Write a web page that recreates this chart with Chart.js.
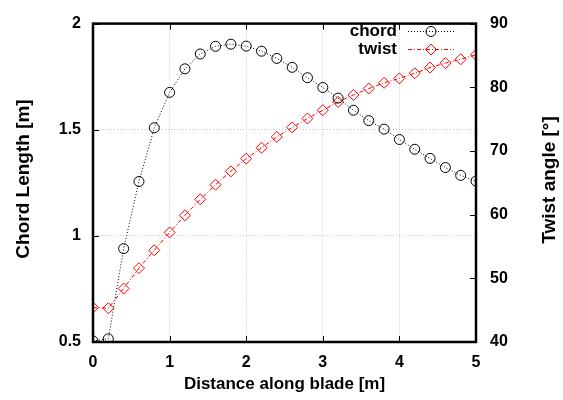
<!DOCTYPE html>
<html>
<head>
<meta charset="utf-8">
<script src="https://cdn.jsdelivr.net/npm/chart.js@4/dist/chart.umd.min.js"></script>
<style>
  html, body { margin: 0; padding: 0; background: #fff; }
  #wrap { width: 563px; height: 400px; }
</style>
</head>
<body>
<div id="wrap"><canvas id="bladeChart"></canvas></div>
<script>
// distance along blade [m]
var distance = [0, 0.2, 0.4, 0.6, 0.8, 1.0, 1.2, 1.4, 1.6, 1.8, 2.0, 2.2, 2.4,
                2.6, 2.8, 3.0, 3.2, 3.4, 3.6, 3.8, 4.0, 4.2, 4.4, 4.6, 4.8, 5.0];
// chord length [m]
var chord = [0.505, 0.515, 0.94, 1.256, 1.509, 1.676, 1.787, 1.857, 1.893, 1.903, 1.894, 1.870, 1.836,
             1.794, 1.745, 1.699, 1.649, 1.592, 1.543, 1.503, 1.454, 1.408, 1.365, 1.322, 1.285, 1.258];
// twist angle [deg]
var twist = [45.4, 45.3, 48.4, 51.6, 54.4, 57.2, 59.9, 62.4, 64.7, 66.8, 68.8, 70.5, 72.2,
             73.7, 75.1, 76.4, 77.7, 78.8, 79.8, 80.7, 81.4, 82.2, 83.1, 83.8, 84.4, 85.1];

var xTicks = [0, 1, 2, 3, 4, 5];
var chordTicks = [0.5, 1, 1.5, 2];
var twistTicks = [40, 50, 60, 70, 80, 90];

var FONT = "'Liberation Sans', Arial, Helvetica, sans-serif";

function pairs(xs, ys) {
  return xs.map(function (x, i) { return { x: x, y: ys[i] }; });
}

function verticalTitle(ctx, text, x, y) {
  ctx.save();
  ctx.translate(x, y);
  ctx.rotate(-Math.PI / 2);
  ctx.font = 'bold 19px ' + FONT;
  ctx.fillStyle = '#000';
  ctx.textAlign = 'center';
  ctx.textBaseline = 'middle';
  ctx.fillText(text, 0, 0);
  ctx.restore();
}

// frame, inward tick marks, y titles and gnuplot-style legend
var gnuplotDecor = {
  id: 'gnuplotDecor',
  afterDraw: function (chart) {
    var ctx = chart.ctx;
    var a = chart.chartArea;
    var sx = chart.scales.x, sy = chart.scales.y, sy2 = chart.scales.y2;
    ctx.save();
    ctx.strokeStyle = '#000';
    ctx.lineWidth = 1;
    ctx.beginPath();
    xTicks.forEach(function (v) {
      var px = Math.round(sx.getPixelForValue(v)) + 0.5;
      ctx.moveTo(px, a.bottom); ctx.lineTo(px, a.bottom - 6);
      ctx.moveTo(px, a.top); ctx.lineTo(px, a.top + 6);
    });
    chordTicks.forEach(function (v) {
      var py = Math.round(sy.getPixelForValue(v)) + 0.5;
      ctx.moveTo(a.left, py); ctx.lineTo(a.left + 6, py);
    });
    twistTicks.forEach(function (v) {
      var py = Math.round(sy2.getPixelForValue(v)) + 0.5;
      ctx.moveTo(a.right, py); ctx.lineTo(a.right - 6, py);
    });
    ctx.stroke();

    ctx.lineWidth = 2.5;
    ctx.strokeRect(a.left, a.top, a.right - a.left, a.bottom - a.top);

    verticalTitle(ctx, 'Chord Length [m]', 24, 179);
    verticalTitle(ctx, 'Twist angle [°]', 550, 180);

    // legend
    var rows = [
      { label: 'chord', y: 31, ds: chart.data.datasets[0] },
      { label: 'twist', y: 49, ds: chart.data.datasets[1] }
    ];
    ctx.font = 'bold 17px ' + FONT;
    ctx.textAlign = 'right';
    ctx.textBaseline = 'middle';
    rows.forEach(function (r) {
      ctx.fillStyle = '#000';
      ctx.fillText(r.label, 397, r.y);
      ctx.strokeStyle = r.ds.borderColor;
      ctx.lineWidth = 1;
      ctx.setLineDash(r.ds.borderDash);
      ctx.beginPath();
      ctx.moveTo(408, r.y + 0.5); ctx.lineTo(454, r.y + 0.5);
      ctx.stroke();
      ctx.setLineDash([]);
      ctx.fillStyle = 'rgba(0,0,0,0)';
      Chart.helpers.drawPoint(ctx, {
        pointStyle: r.ds.pointStyle, radius: r.ds.pointRadius, borderWidth: 1
      }, 431, r.y + 0.5);
    });
    ctx.restore();
  }
};

var tickFont = { family: FONT, size: 16, weight: 'bold' };

var ctx = document.getElementById('bladeChart');

var bladeChart = new Chart(ctx, {
  type: 'line',
  data: {
    datasets: [
      {
        label: 'chord',
        data: pairs(distance, chord),
        yAxisID: 'y',
        borderColor: '#000',
        borderWidth: 1,
        borderDash: [1, 2],
        pointStyle: 'circle',
        pointRadius: 5,
        pointBorderWidth: 1,
        pointBorderColor: '#000',
        pointBackgroundColor: 'rgba(0,0,0,0)',
        tension: 0
      },
      {
        label: 'twist',
        data: pairs(distance, twist),
        yAxisID: 'y2',
        borderColor: '#ff0000',
        borderWidth: 1,
        borderDash: [4, 2, 1, 2],
        pointStyle: 'rectRot',
        pointRadius: 5.5,
        pointBorderWidth: 1,
        pointBorderColor: '#ff0000',
        pointBackgroundColor: 'rgba(0,0,0,0)',
        tension: 0
      }
    ]
  },
  options: {
    responsive: true,
    maintainAspectRatio: false,
    animation: false,
    layout: { padding: { top: 16, left: 0, right: 0, bottom: 0 } },
    plugins: {
      legend: { display: false },
      tooltip: { enabled: false }
    },
    scales: {
      x: {
        type: 'linear',
        min: 0, max: 5,
        afterFit: function (s) { s.height = 58; },
        afterBuildTicks: function (s) { s.ticks = xTicks.map(function (v) { return { value: v }; }); },
        ticks: {
          padding: 11,
          color: '#000',
          font: tickFont,
          callback: function (v) { return String(v); }
        },
        grid: { color: '#c8c8c8', drawTicks: false, lineWidth: 1 },
        border: { display: false, dash: [1, 2] },
        title: {
          display: true,
          text: 'Distance along blade [m]',
          color: '#000',
          font: { family: FONT, size: 17, weight: 'bold' },
          padding: { top: 0, bottom: 5 }
        }
      },
      y: {
        type: 'linear',
        position: 'left',
        min: 0.5, max: 2,
        afterFit: function (s) { s.width = 93; },
        afterBuildTicks: function (s) { s.ticks = chordTicks.map(function (v) { return { value: v }; }); },
        ticks: {
          padding: 12,
          color: '#000',
          font: tickFont,
          callback: function (v) { return String(v); }
        },
        grid: { color: '#c8c8c8', drawTicks: false, lineWidth: 1 },
        border: { display: false, dash: [1, 2] }
      },
      y2: {
        type: 'linear',
        position: 'right',
        min: 40, max: 90,
        afterFit: function (s) { s.width = 87; },
        afterBuildTicks: function (s) { s.ticks = twistTicks.map(function (v) { return { value: v }; }); },
        ticks: {
          padding: 14,
          color: '#000',
          font: tickFont,
          callback: function (v) { return String(v); }
        },
        grid: { display: false, drawTicks: false },
        border: { display: false }
      }
    }
  },
  plugins: [gnuplotDecor]
});
</script>
</body>
</html>
